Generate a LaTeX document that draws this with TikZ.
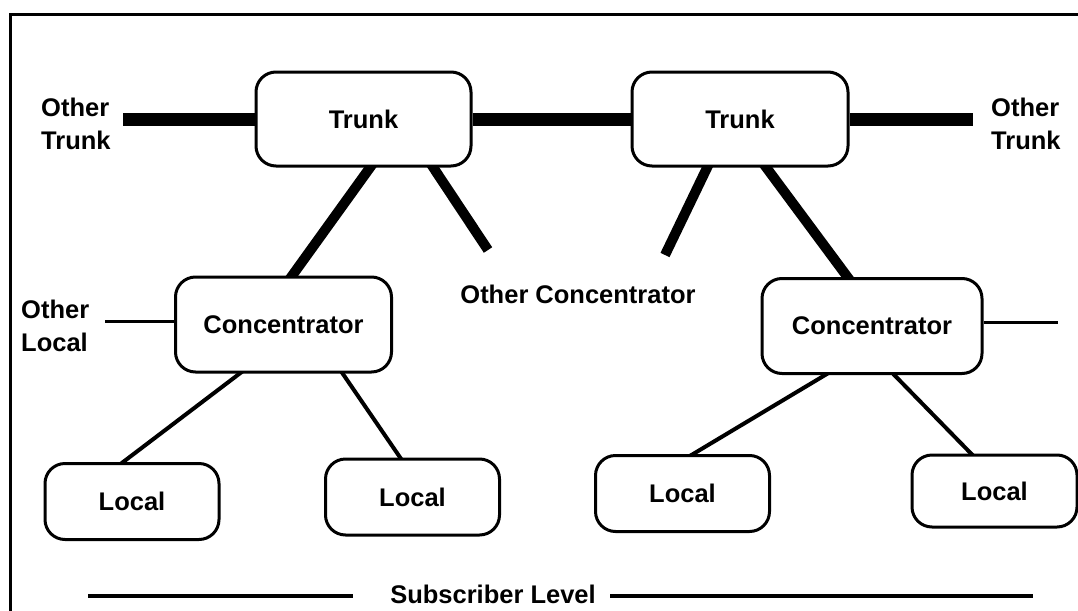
\documentclass[tikz,border=0pt]{standalone}
\usepackage{fontspec}
\setmainfont{Liberation Sans}
\usetikzlibrary{calc,backgrounds}
\begin{document}
\begin{tikzpicture}[x=1pt,y=-1pt,
  every node/.style={font=\fontsize{25.5}{33}\selectfont\bfseries},
  box/.style={draw,line width=3pt,rounded corners=20pt,fill=white,inner sep=0pt},
  trunkbox/.style={box,minimum width=215pt,minimum height=94pt},
  concbox/.style={box,minimum width=216pt,minimum height=95pt},
  localbox/.style={box,minimum width=174pt,minimum height=76pt},
  label/.style={align=left,anchor=west,inner sep=0pt},
  trunkline/.style={line width=13pt},
  feeder/.style={line width=10pt,shorten <=-6pt,shorten >=-6pt},
  access/.style={line width=4pt,shorten <=-4pt,shorten >=-4pt},
  thin/.style={line width=3pt}]
\useasboundingbox (0,0) rectangle (1078,610);
% frame
\draw[line width=3pt] (1078,15) -- (10,15) -- (10,612);

% exchanges
\node[trunkbox] (t1) at (363.5,119) {Trunk};
\node[trunkbox,minimum width=216pt] (t2) at (740,119) {Trunk};
\node[concbox] (c1) at (283.5,324.5) {Concentrator};
\node[concbox,minimum width=220pt] (c2) at (872,326) {Concentrator};
\node[localbox] (l1) at (132,501.5) {Local};
\node[localbox] (l2) at (412.5,497) {Local};
\node[localbox] (l3) at (682.5,493.5) {Local};
\node[localbox,minimum width=165pt,minimum height=72pt] (l4) at (994.5,491) {Local};

% labels
\node[label] (ot1) at (41,123.5) {Other\\Trunk};
\node[label] (ot2) at (991,123.5) {Other\\Trunk};
\node[label] (olc) at (21,326) {Other\\Local};
\node (oc) at (578,294) {Other Concentrator};
\node (sub) at (493,594) {Subscriber Level};

% free line ends
\coordinate (ot1e) at (123,119);
\coordinate (ot2e) at (973,119);
\coordinate (oc1) at (488,250);
\coordinate (oc2) at (665,255);
\coordinate (olce) at (105,321);
\coordinate (c2e) at (1058,322);
\coordinate (subl) at (88,596);
\coordinate (subr) at (1033,596);

\begin{pgfonlayer}{background}
  % trunk level
  \draw[trunkline] (ot1e) -- (t1.west);
  \draw[trunkline] (t1.east) -- (t2.west);
  \draw[trunkline] (t2.east) -- (ot2e);
  % trunk to concentrator
  \draw[feeder] ($(t1.south west)!0.53!(t1.south east)$) -- ($(c1.north west)!0.54!(c1.north east)$);
  \draw[feeder,shorten >=0pt] ($(t1.south west)!0.82!(t1.south east)$) -- (oc1);
  \draw[feeder,shorten >=0pt] ($(t2.south west)!0.35!(t2.south east)$) -- (oc2);
  \draw[feeder] ($(t2.south west)!0.62!(t2.south east)$) -- ($(c2.north west)!0.39!(c2.north east)$);
  % concentrator to local
  \draw[access] ($(c1.south west)!0.30!(c1.south east)$) -- ($(l1.north west)!0.45!(l1.north east)$);
  \draw[access] ($(c1.south west)!0.77!(c1.south east)$) -- ($(l2.north west)!0.43!(l2.north east)$);
  \draw[access] ($(c2.south west)!0.29!(c2.south east)$) -- ($(l3.north west)!0.56!(l3.north east)$);
  \draw[access] ($(c2.south west)!0.60!(c2.south east)$) -- ($(l4.north west)!0.36!(l4.north east)$);
  % other locals
  \draw[thin] (olce) -- (olce -| c1.west);
  \draw[thin] (c2.east |- c2e) -- (c2e);
\end{pgfonlayer}

% subscriber level rule
\draw[line width=3.5pt] (subl) -- (subl -| 353,0);
\draw[line width=3.5pt] (subr -| 610,0) -- (subr);
\end{tikzpicture}
\end{document}
